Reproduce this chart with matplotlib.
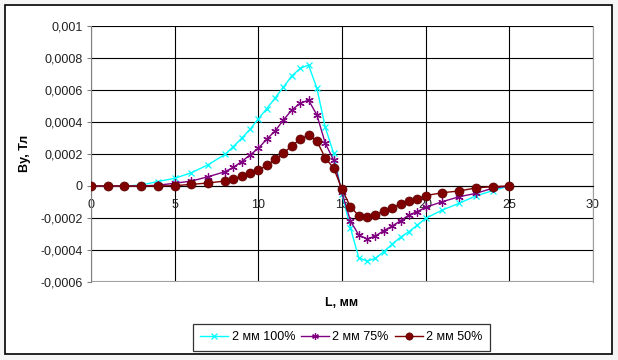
import matplotlib.pyplot as plt
from matplotlib.patches import Rectangle
from matplotlib.ticker import FuncFormatter

# ------------------------------------------------------------
# Данные
# ------------------------------------------------------------
L = [0, 1, 2, 3, 4, 5, 6, 7, 8,
     8.5, 9, 9.5, 10, 10.5, 11, 11.5, 12, 12.5, 13, 13.5, 14, 14.5, 15,
     15.5, 16, 16.5, 17, 17.5, 18, 18.5, 19, 19.5, 20,
     21, 22, 23, 24, 25]

by_100 = [0, 0, 0, 6e-6, 2.8e-5, 4.8e-5, 8.3e-5, 1.33e-4, 1.97e-4,
          2.46e-4, 2.98e-4, 3.54e-4, 4.2e-4, 4.83e-4, 5.5e-4, 6.18e-4, 6.88e-4, 7.35e-4, 7.56e-4,
          6.1e-4, 3.67e-4, 2.04e-4, -5e-5,
          -2.6e-4, -4.48e-4, -4.7e-4, -4.52e-4, -4.1e-4, -3.63e-4, -3.2e-4, -2.85e-4, -2.44e-4, -2.02e-4,
          -1.5e-4, -1.08e-4, -6.2e-5, -2.9e-5, 0]

by_75 = [0, 0, 0, 0, 5e-6, 1.7e-5, 3.1e-5, 5.8e-5, 8.9e-5,
         1.17e-4, 1.52e-4, 1.94e-4, 2.35e-4, 2.92e-4, 3.44e-4, 4.12e-4, 4.75e-4, 5.17e-4, 5.37e-4,
         4.44e-4, 2.67e-4, 1.62e-4, -4e-5,
         -2.17e-4, -3.06e-4, -3.31e-4, -3.12e-4, -2.79e-4, -2.5e-4, -2.17e-4, -1.81e-4, -1.6e-4, -1.33e-4,
         -9.8e-5, -6.7e-5, -4.6e-5, -1.4e-5, 0]

by_50 = [0, 0, 0, 0, 0, 2e-6, 1e-5, 1.9e-5, 3.1e-5,
         4.2e-5, 6.2e-5, 7.9e-5, 9.8e-5, 1.29e-4, 1.67e-4, 2.04e-4, 2.52e-4, 2.92e-4, 3.17e-4,
         2.81e-4, 1.75e-4, 1.12e-4, -2e-5,
         -1.29e-4, -1.86e-4, -1.94e-4, -1.81e-4, -1.56e-4, -1.37e-4, -1.12e-4, -9.4e-5, -8.1e-5, -6e-5,
         -4.2e-5, -3.1e-5, -1.2e-5, -4e-6, 0]

series_labels = ["2 мм 100%", "2 мм 75%", "2 мм 50%"]

x_ticks = [0, 5, 10, 15, 20, 25, 30]
y_ticks = [-0.0006, -0.0004, -0.0002, 0, 0.0002, 0.0004, 0.0006, 0.0008, 0.001]

# ------------------------------------------------------------
# Рисунок
# ------------------------------------------------------------
plt.rcParams["font.family"] = ["Liberation Sans", "DejaVu Sans"]

fig = plt.figure(figsize=(6.18, 3.6), dpi=100)
fig.patch.set_facecolor("#f5f5f5")
fig.patches.append(Rectangle((5 / 618, 1 - 354 / 360), 607 / 618, 349 / 360,
                             transform=fig.transFigure, facecolor="white",
                             edgecolor="black", linewidth=1.2, zorder=-10))

ax = fig.add_axes([91 / 618, 1 - 282 / 360, 502 / 618, 256 / 360])
ax.set_facecolor("white")

ax.plot(L, by_100, color="#00ffff", marker="x", markersize=5, markeredgewidth=0.9,
        linewidth=1.0, label=series_labels[0], zorder=3)
ax.plot(L, by_75, color="#800080", marker=(6, 2, 0), markersize=6, markeredgewidth=0.9,
        linewidth=1.0, label=series_labels[1], zorder=4)
ax.plot(L, by_50, color="#800000", marker="o", markersize=6.5, markeredgecolor="#5a0000",
        markeredgewidth=0.5, linewidth=1.0, label=series_labels[2], zorder=5)

ax.set_xlim(0, 30)
ax.set_ylim(-0.0006, 0.001)
ax.set_xticks(x_ticks)
ax.set_yticks(y_ticks)

def fmt_comma(v, pos):
    if abs(v) < 1e-12:
        return "0"
    return f"{v:.4f}".rstrip("0").replace(".", ",")

ax.yaxis.set_major_formatter(FuncFormatter(fmt_comma))
ax.xaxis.set_major_formatter(FuncFormatter(lambda v, p: f"{v:g}"))

ax.grid(True, color="black", linewidth=0.8)
ax.set_axisbelow(True)

ax.spines["bottom"].set_position(("data", 0))
ax.spines["bottom"].set_color("black")
ax.spines["left"].set_color("#808080")
ax.spines["right"].set_color("#a0a0a0")
ax.spines["top"].set_visible(False)
ax.tick_params(axis="x", length=0, pad=9, labelsize=9, colors="#202020")
ax.tick_params(axis="y", length=3, width=0.8, color="#808080", pad=3, labelsize=9,
               labelcolor="#202020")

# нижняя граница области построения
ax.axhline(-0.0006, color="#a0a0a0", linewidth=1.5, zorder=2)

fig.text(342 / 618, 1 - 303 / 360, "L, мм", ha="center", va="center",
         fontsize=9, fontweight="bold")
fig.text(25 / 618, 1 - 153 / 360, "By, Тл", ha="center", va="center",
         rotation=90, fontsize=9, fontweight="bold")

leg = fig.legend(loc="center", bbox_to_anchor=(341.5 / 618, 1 - 337 / 360), ncol=3,
                 fontsize=9, frameon=True, fancybox=False, edgecolor="black",
                 borderpad=0.6, handlelength=2.2, columnspacing=0.5, handletextpad=0.3,
                 borderaxespad=0.2, markerscale=0.8)
leg.get_frame().set_linewidth(0.9)

fig.savefig("out.png", dpi=100, facecolor=fig.get_facecolor())
